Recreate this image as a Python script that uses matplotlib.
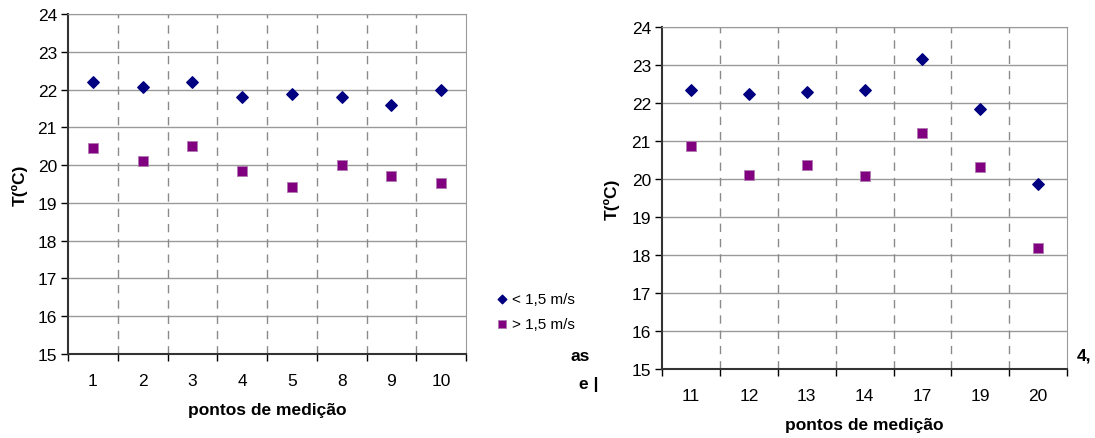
import matplotlib
matplotlib.use("Agg")
import matplotlib.pyplot as plt

plt.rcParams['font.family'] = ['Liberation Sans', 'DejaVu Sans']

# left panel
pontos_a = ['1', '2', '3', '4', '5', '8', '9', '10']
lento_a = [22.2, 22.08, 22.19, 21.81, 21.87, 21.81, 21.59, 21.98]
rapido_a = [20.46, 20.11, 20.5, 19.84, 19.41, 20.0, 19.7, 19.52]

# right panel
pontos_b = ['11', '12', '13', '14', '17', '19', '20']
lento_b = [22.34, 22.23, 22.3, 22.34, 23.16, 21.84, 19.88]
rapido_b = [20.86, 20.11, 20.37, 20.08, 21.21, 20.32, 18.19]

navy = '#000080'
purple = '#800080'

fig = plt.figure(figsize=(10.95, 4.39), dpi=100)
ax1 = fig.add_axes([0.0621, 0.1913, 0.3635, 0.7745])
ax2 = fig.add_axes([0.6046, 0.1572, 0.3700, 0.7790])


def draw(ax, pontos, lento, rapido, ylabel_x):
    n = len(pontos)
    xs = [i + 0.5 for i in range(n)]
    ax.scatter(xs, lento, marker='D', s=34, color=navy, zorder=3, label='< 1,5 m/s')
    ax.scatter(xs, rapido, marker='s', s=46, color=purple, edgecolor='#b07ab0',
               linewidth=0.6, zorder=3, label='> 1,5 m/s')
    ax.set_xlim(0, n)
    ax.set_ylim(15, 24)
    ax.set_yticks(range(15, 25))
    ax.set_xticks(range(n + 1))
    ax.set_xticklabels([])
    ax.set_xticks(xs, minor=True)
    ax.set_xticklabels(pontos, minor=True)
    ax.tick_params(axis='x', which='minor', length=0, pad=14, labelsize=12.5)
    ax.tick_params(axis='x', which='major', direction='out', length=5, width=1)
    ax.tick_params(axis='y', direction='out', length=5, width=1, labelsize=12.5, pad=3)
    for y in range(16, 25):
        ax.axhline(y, color='#9a9a9a', lw=1, zorder=1)
    for x in range(1, n):
        ax.axvline(x, color='#8a8a8a', lw=1, ls=(0, (6, 5)), zorder=1)
    for s in ['top', 'right']:
        ax.spines[s].set_color('#9a9a9a')
    for s in ['left', 'bottom']:
        ax.spines[s].set_color('#333333')
        ax.spines[s].set_linewidth(1.5)
    ax.set_xlabel('pontos de medição', fontsize=12.5, fontweight='bold', labelpad=10)
    ax.set_ylabel('T(ºC)', fontsize=12.5, fontweight='bold')
    ax.yaxis.set_label_coords(ylabel_x, 0.5)


draw(ax1, pontos_a, lento_a, rapido_a, -0.10)
draw(ax2, pontos_b, lento_b, rapido_b, -0.105)

handles, labels = ax1.get_legend_handles_labels()
fig.legend(handles, labels, loc='upper left', bbox_to_anchor=(0.440, 0.365),
           frameon=False, fontsize=11, handletextpad=0.2, labelspacing=0.75,
           handlelength=0.9, markerscale=0.75)

# cropped text fragments from the source page
fig.text(0.521, 0.178, 'as', fontsize=12.5, fontweight='bold')
fig.text(0.529, 0.115, 'e |', fontsize=12.5, fontweight='bold')
fig.text(0.983, 0.178, '4,', fontsize=12.5, fontweight='bold')

fig.savefig('out.png', dpi=100)
